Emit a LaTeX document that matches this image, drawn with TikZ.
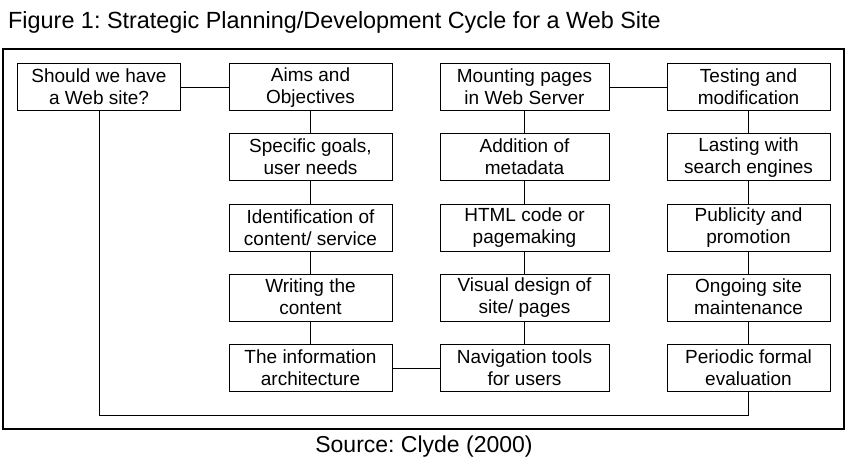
\documentclass[tikz,border=0pt]{standalone}
\usepackage{fontspec}
\setmainfont{Liberation Sans}
\frenchspacing

\begin{document}
\begin{tikzpicture}[x=1pt,y=-1pt]
                \useasboundingbox (0,0) rectangle (848,473);
                \node[anchor=base west, inner sep=0pt, font=\fontsize{23.4}{27}\selectfont] (title) at (8,29)
                    {Figure 1: Strategic Planning/Development Cycle for a Web Site};
                \draw[line width=2pt] (3,49) rectangle (844,429);

                \begin{scope}[every node/.style = {draw, line width=1pt, minimum width=163pt, minimum height=47pt,
                                inner sep=0pt, align=center, font=\fontsize{19}{22}\selectfont,
                                execute at begin node=\rule{0pt}{24pt},
                                execute at end node=\rule[-1pt]{0pt}{1pt}}]
                    \node (Q)  at (99, 87.5)    {Should we have\\a Web site?};

                    \node (A1) at (310.5, 87.5)  {Aims and\\Objectives};
                    \node (A2) at (310.5, 157.5) {Specific goals,\\user needs};
                    \node (A3) at (310.5, 228)   {Identification of\\content/ service};
                    \node (A4) at (310.5, 297.5) {Writing the\\content};
                    \node (A5) at (310.5, 368)   {The information\\architecture};

                    \node[minimum width=169pt] (B1) at (524.5, 87.5)  {Mounting pages\\in Web Server};
                    \node[minimum width=169pt] (B2) at (524.5, 157.5) {Addition of\\metadata};
                    \node[minimum width=169pt] (B3) at (524.5, 228)   {HTML code or\\pagemaking};
                    \node[minimum width=169pt] (B4) at (524.5, 297.5) {Visual design of\\site/ pages};
                    \node[minimum width=169pt] (B5) at (524.5, 368)   {Navigation tools\\for users};

                    \node (C1) at (748.5, 87.5)  {Testing and\\modification};
                    \node (C2) at (748.5, 157.5) {Lasting with\\search engines};
                    \node (C3) at (748.5, 228)   {Publicity and\\promotion};
                    \node (C4) at (748.5, 297.5) {Ongoing site\\maintenance};
                    \node (C5) at (748.5, 368)   {Periodic formal\\evaluation};
                \end{scope}

                \coordinate (loop) at (99, 415);

                \begin{scope}[every edge/.style={draw, line width=1pt}]
                     \path (Q) edge (A1);
                     \path (A1) edge (A2);
                     \path (A2) edge (A3);
                     \path (A3) edge (A4);
                     \path (A4) edge (A5);

                     \path (A5) edge (B5);
                     \path (B5) edge (B4);
                     \path (B4) edge (B3);
                     \path (B3) edge (B2);
                     \path (B2) edge (B1);

                     \path (B1) edge (C1);
                     \path (C1) edge (C2);
                     \path (C2) edge (C3);
                     \path (C3) edge (C4);
                     \path (C4) edge (C5);

                     \draw[line width=1pt] (C5.south) |- (loop) -- (Q.south);
                \end{scope}

                \node[anchor=base, inner sep=0pt, font=\fontsize{23}{27}\selectfont] (source) at (424,452)
                    {Source: Clyde (2000)};
            \end{tikzpicture}
\end{document}
